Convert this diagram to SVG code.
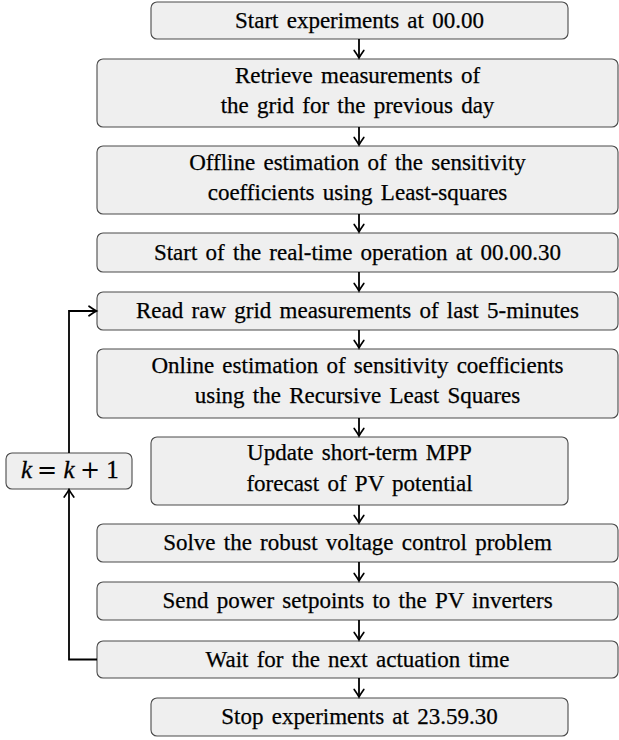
<svg xmlns="http://www.w3.org/2000/svg" width="619" height="740" viewBox="0 0 619 740">
<style>
.box{fill:#efefef;stroke:#4a4a4a;stroke-width:1.1}
.t{font-family:"Liberation Serif","Times New Roman",serif;font-size:23px;word-spacing:2.5px;fill:#000;stroke:#000;stroke-width:0.25;text-anchor:middle}
.m{font-family:"Liberation Serif","Times New Roman",serif;font-size:25px;fill:#000;stroke:#000;stroke-width:0.3;text-anchor:middle}
.o{font-family:"DejaVu Serif",serif;font-size:24px;fill:#000;text-anchor:middle}
.c{fill:none;stroke:#000;stroke-width:1.8}
</style>
<defs>
<marker id="ah" markerUnits="userSpaceOnUse" viewBox="-9 -6 11 12" refX="0" refY="0" markerWidth="11" markerHeight="12" orient="auto">
<path d="M-7.5,-4.8 Q-2.5,-1.2 0,0 Q-2.5,1.2 -7.5,4.8" fill="none" stroke="#000" stroke-width="1.7" stroke-linecap="round"/>
</marker>
</defs>
<g id="n1"><rect class="box" x="151" y="2" width="417" height="37" rx="6"/><text class="t" x="359.5" y="27.5">Start experiments at 00.00</text></g>
<g id="n2"><rect class="box" x="97" y="59" width="521" height="68" rx="6"/><text class="t" x="357.5" y="82.5">Retrieve measurements of</text><text class="t" x="357.5" y="113">the grid for the previous day</text></g>
<g id="n3"><rect class="box" x="97" y="146" width="521" height="68" rx="6"/><text class="t" x="357.5" y="169.5">Offline estimation of the sensitivity</text><text class="t" x="357.5" y="200">coefficients using Least-squares</text></g>
<g id="n4"><rect class="box" x="97" y="233" width="521" height="39" rx="6"/><text class="t" x="357.5" y="259.5">Start of the real-time operation at 00.00.30</text></g>
<g id="n5"><rect class="box" x="97" y="292" width="521" height="38" rx="6"/><text class="t" x="357.5" y="318">Read raw grid measurements of last 5-minutes</text></g>
<g id="n6"><rect class="box" x="97" y="349" width="521" height="69" rx="6"/><text class="t" x="357.5" y="372.5">Online estimation of sensitivity coefficients</text><text class="t" x="357.5" y="403">using the Recursive Least Squares</text></g>
<g id="n7"><rect class="box" x="151" y="437" width="417" height="68" rx="6"/><text class="t" x="359.5" y="460">Update short-term MPP</text><text class="t" x="359.5" y="490.5">forecast of PV potential</text></g>
<g id="n8"><rect class="box" x="97" y="524" width="521" height="38" rx="6"/><text class="t" x="357.5" y="550">Solve the robust voltage control problem</text></g>
<g id="n9"><rect class="box" x="97" y="582" width="521" height="38" rx="6"/><text class="t" x="357.5" y="608">Send power setpoints to the PV inverters</text></g>
<g id="n10"><rect class="box" x="97" y="641" width="521" height="37" rx="6"/><text class="t" x="357.5" y="666.5">Wait for the next actuation time</text></g>
<g id="n11"><rect class="box" x="151" y="698" width="417" height="38" rx="6"/><text class="t" x="359.5" y="724">Stop experiments at 23.59.30</text></g>
<g id="nk"><rect class="box" x="6" y="453" width="126" height="36" rx="6"/>
<text class="m" x="26.5" y="478" font-style="italic">k</text>
<text class="o" x="47" y="478">=</text>
<text class="m" x="69" y="478" font-style="italic">k</text>
<text class="o" x="90" y="478">+</text>
<text class="m" x="112.5" y="478">1</text>
</g>
<g id="connectors">
<path class="c" d="M359,39V58" marker-end="url(#ah)"/>
<path class="c" d="M359,127V145" marker-end="url(#ah)"/>
<path class="c" d="M359,214V232" marker-end="url(#ah)"/>
<path class="c" d="M359,272V291" marker-end="url(#ah)"/>
<path class="c" d="M359,330V348" marker-end="url(#ah)"/>
<path class="c" d="M359,418V436" marker-end="url(#ah)"/>
<path class="c" d="M359,505V523" marker-end="url(#ah)"/>
<path class="c" d="M359,562V581" marker-end="url(#ah)"/>
<path class="c" d="M359,620V640" marker-end="url(#ah)"/>
<path class="c" d="M359,678V697" marker-end="url(#ah)"/>
<path class="c" d="M97,659.5H69V489.5" marker-end="url(#ah)"/>
<path class="c" d="M69,453V311H96.5" marker-end="url(#ah)"/>
</g>
</svg>
